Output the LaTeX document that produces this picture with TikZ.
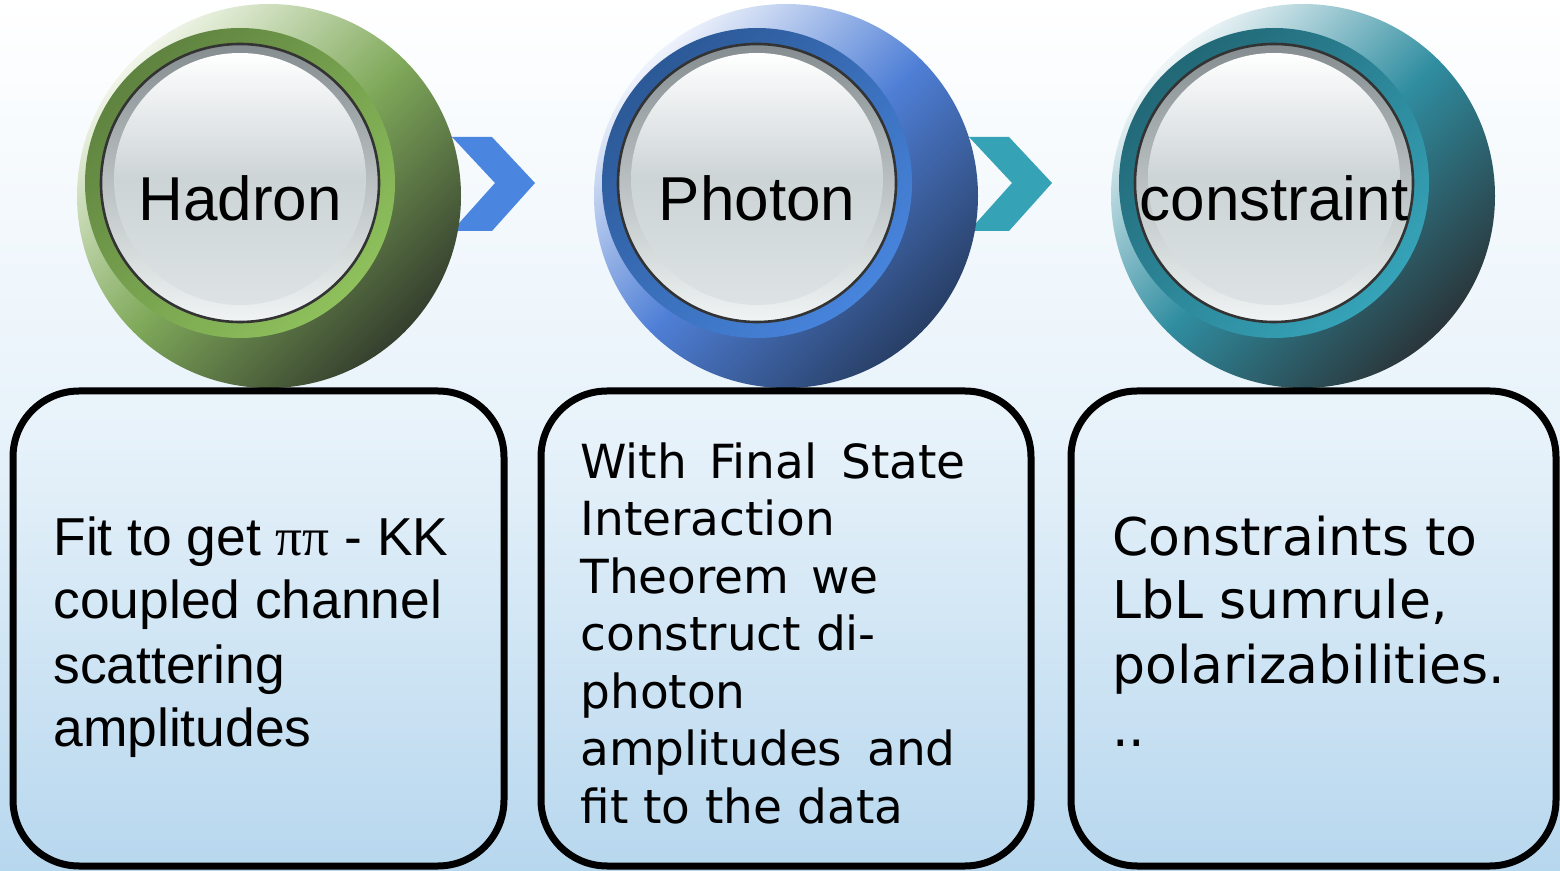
\documentclass[tikz,border=0pt]{standalone}
\usepackage{fontspec}
\setmainfont{Liberation Sans}
\newfontfamily\verdana{DejaVu Sans}
\newfontfamily\romanpi{Liberation Serif}
\usetikzlibrary{positioning,calc}
\pgfdeclarelayer{fons}
\pgfsetlayers{fons,main}

\definecolor{cel}{HTML}{B7D7EE}
\definecolor{celMig}{HTML}{E7F2FA}
\definecolor{botoDalt}{HTML}{858D90}
\definecolor{botoBaix}{HTML}{F0F4F4}
\definecolor{llumMig}{HTML}{CDD4D6}
\definecolor{llumBaix}{HTML}{DDE3E4}
% verd
\definecolor{verdClar}{HTML}{F0F5E8}
\definecolor{verdMig}{HTML}{7FA95A}
\definecolor{verdFosc}{HTML}{353F2E}
\definecolor{verdAnell}{HTML}{5F8340}
\definecolor{verdVora}{HTML}{8EC05C}
% blau
\definecolor{blauClar}{HTML}{EEF2FB}
\definecolor{blauMig}{HTML}{4F7FD6}
\definecolor{blauFosc}{HTML}{283F66}
\definecolor{blauAnell}{HTML}{2C5997}
\definecolor{blauVora}{HTML}{4784DC}
% turquesa
\definecolor{turClar}{HTML}{EEF5F7}
\definecolor{turMig}{HTML}{2F8DA0}
\definecolor{turFosc}{HTML}{2A363B}
\definecolor{turAnell}{HTML}{226877}
\definecolor{turVora}{HTML}{36A3B8}
\definecolor{fletxaA}{HTML}{4A86E0}
\definecolor{fletxaB}{HTML}{35A2B6}

\tikzset{
  boto/.style={circle, draw=black!80, line width=1.3pt, minimum size=139pt, inner sep=0pt,
    top color=botoDalt, bottom color=botoBaix},
  etiqueta/.style={anchor=base, inner sep=0pt, font=\fontsize{31}{36}\selectfont},
  capsa/.style={draw=black, line width=3.5pt, rounded corners=33pt, minimum height=237.5pt, inner sep=0pt},
  textA/.style={anchor=base west, align=left, inner sep=0pt, font=\fontsize{26.7}{32}\selectfont},
  textB/.style={anchor=base west, align=left, inner sep=0pt, font=\verdana\fontsize{23.5}{28.75}\selectfont},
  textC/.style={anchor=base west, align=left, inner sep=0pt, font=\verdana\fontsize{26}{32}\selectfont},
}

\begin{document}
\begin{tikzpicture}[x=0.5pt,y=-0.5pt]
    \useasboundingbox (0,0) rectangle (1560,871);

    % cel
    \begin{pgfonlayer}{fons}
        \shade[top color=white, bottom color=cel, middle color=celMig] (0,0) rectangle (1560,871);
    \end{pgfonlayer}

    % Botons rodons
    \foreach \nom/\cx/\txt/\col in {hadron/240/Hadron/verd,photon/757/Photon/blau,constr/1274/constraint/tur}{
        \shade[top color=\col Clar, bottom color=\col Fosc, middle color=\col Mig, shading angle=45]
            (\cx+29,196) circle [radius=96pt];
        \shade[top color=\col Anell, bottom color=\col Vora, shading angle=45]
            (\cx,183) circle [radius=77.5pt];
        \node[boto] (\nom) at (\cx,183) {};
        \shade[top color=white, bottom color=llumBaix, middle color=llumMig]
            (\cx,179) circle [radius=63pt];
        \node[etiqueta] (\nom-txt) at (\cx,221) {\txt};
    }

    % Fletxes
    \begin{pgfonlayer}{fons}
        \foreach \a/\b/\col in {hadron/photon/fletxaA,photon/constr/fletxaB}
            \fill[\col, shift={($(\a)!0.5!(\b)$)}]
                (-46.5,-46) -- (-6.5,-46) -- (36.5,0) -- (-6.5,48) -- (-46.5,48) -- (-3.5,0) -- cycle;
    \end{pgfonlayer}

    % Caixes (la base del text es l'ultima linia)
    \node[capsa, minimum width=245.5pt] (caixa1) at (258.5,628.5) {};
    \node[capsa, minimum width=245pt] (caixa2) at (786,628.5) {};
    \node[capsa, minimum width=242.5pt] (caixa3) at (1313.5,628.5) {};

    \node[textA] (text1) at (53,747)
        {Fit to get {\romanpi ππ} - KK\\coupled channel\\scattering\\amplitudes};
    \node[textB] (text2) at (580,823)
        {With\hspace{11pt}Final\hspace{12pt}State\\Interaction\\Theorem\hspace{11pt}we\\construct di-\\photon\\amplitudes\hspace{12.5pt}and\\fit to the data};
    \node[textC] (text3) at (1112,747)
        {Constraints to\\LbL sumrule,\\polarizabilities.\\..};
\end{tikzpicture}
\end{document}
